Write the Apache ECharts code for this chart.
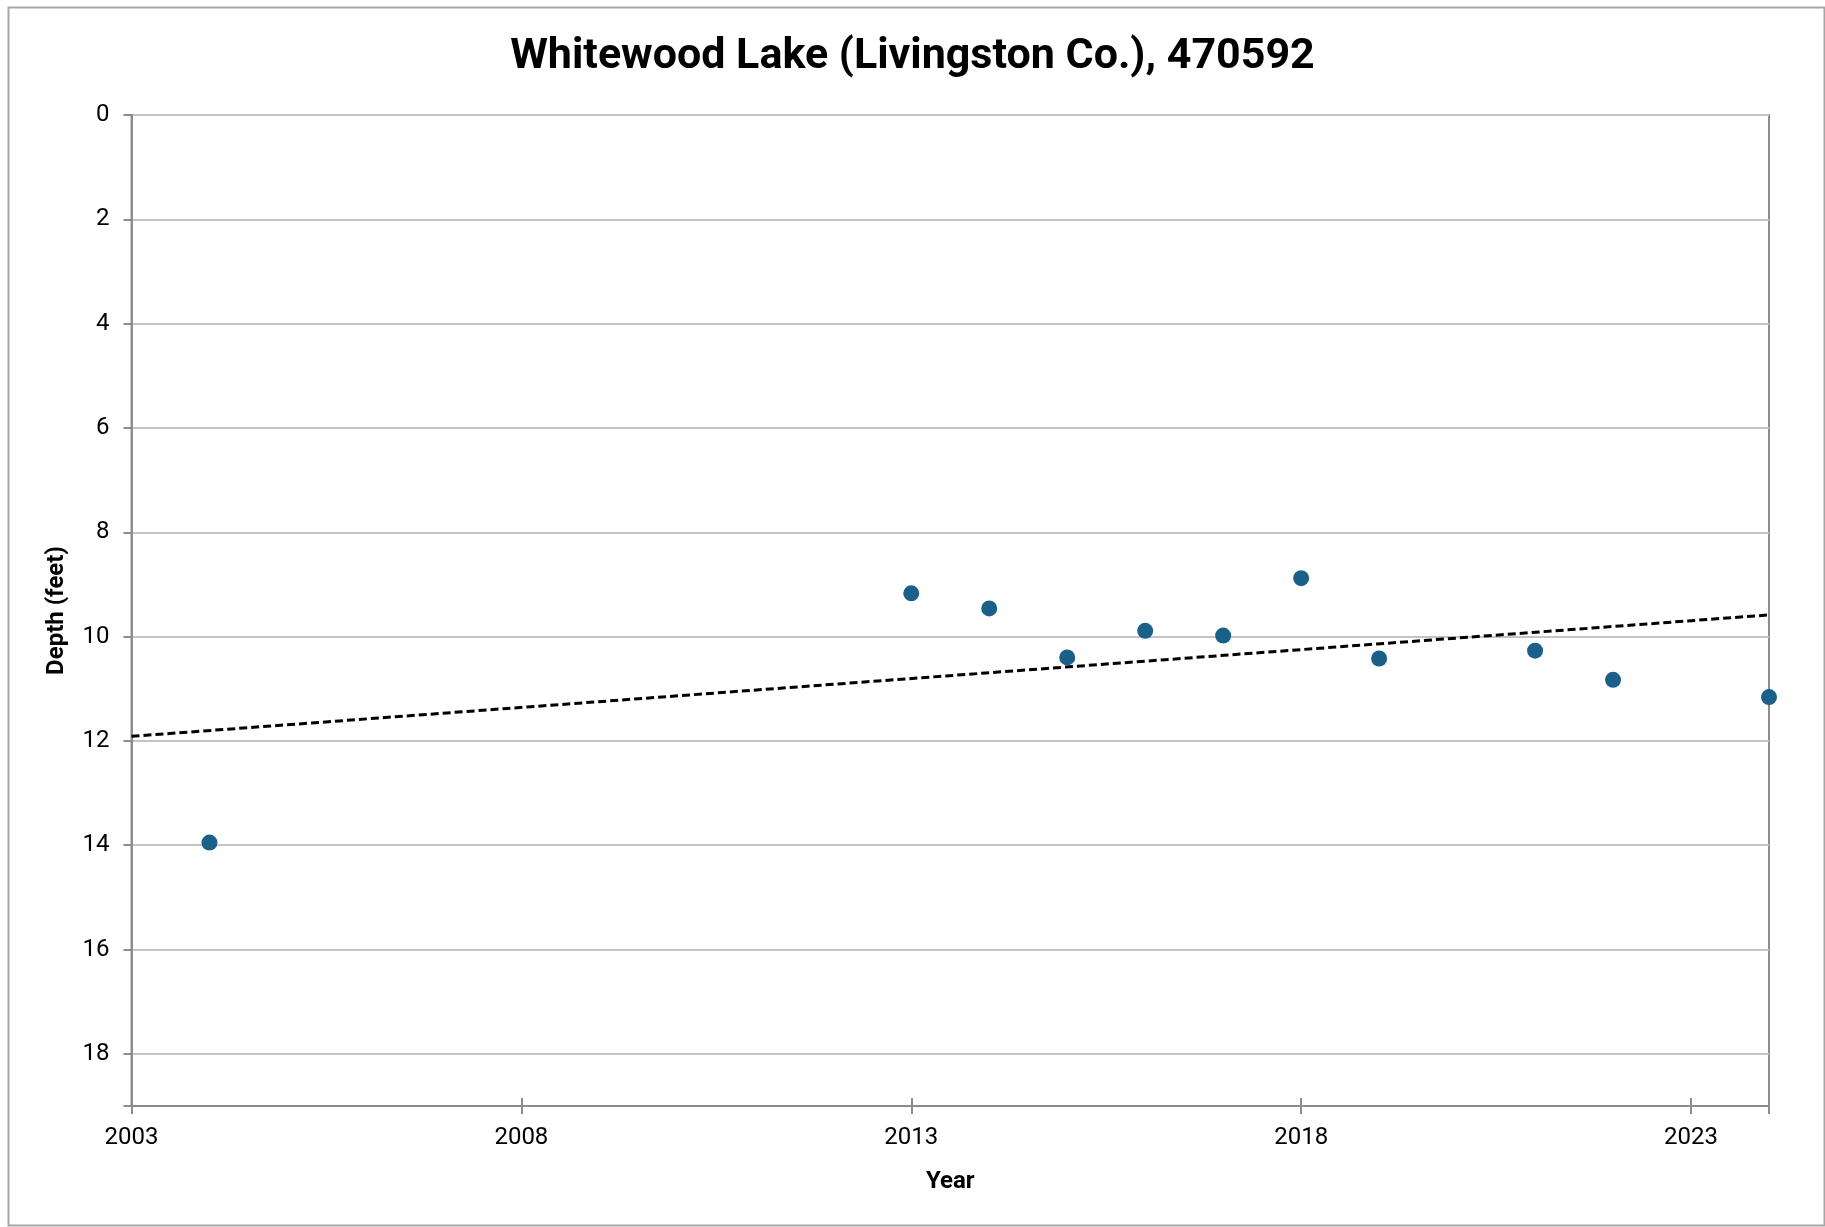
<!DOCTYPE html>
<html>
<head>
<meta charset="utf-8">
<script src="https://cdn.jsdelivr.net/npm/echarts@6/dist/echarts.min.js"></script>
<style>html,body{margin:0;padding:0;background:#fff;}#c{width:1825px;height:1227px;}</style>
</head>
<body>
<div id="c"></div>
<script>
const years = [2004, 2013, 2014, 2015, 2016, 2017, 2018, 2019, 2021, 2022, 2024];
const depths = [13.95, 9.17, 9.46, 10.40, 9.89, 9.98, 8.88, 10.42, 10.27, 10.83, 11.16];
const xTickLabels = ['2003', '2008', '2013', '2018', '2023'];
const yTickLabels = ['0', '2', '4', '6', '8', '10', '12', '14', '16', '18'];
const yearStart = 2003, yearEnd = 2024;
const depthMax = 19;

// least-squares trendline from the data
const n = years.length;
const mx = years.reduce((a, b) => a + b, 0) / n;
const my = depths.reduce((a, b) => a + b, 0) / n;
let sxy = 0, sxx = 0;
for (let i = 0; i < n; i++) { sxy += (years[i] - mx) * (depths[i] - my); sxx += (years[i] - mx) ** 2; }
const slope = sxy / sxx, icpt = my - slope * mx;
const trend = [[0, icpt + slope * yearStart], [yearEnd - yearStart, icpt + slope * yearEnd]];

const pts = years.map((y, i) => [y - yearStart, depths[i]]);
const FONT = 'Roboto, "Liberation Sans", sans-serif';
const AX = '#8c8c8c';
const GRID = {left: 131.5, right: 56, top: 115, bottom: 121};
const plotH = 1227 - GRID.top - GRID.bottom;

const chart = echarts.init(document.getElementById('c'), null, {renderer: 'canvas'});
chart.setOption({
  backgroundColor: '#fff',
  animation: false,
  title: {
    text: 'Whitewood Lake (Livingston Co.), 470592',
    left: 'center', top: 31,
    textStyle: {fontFamily: FONT, fontWeight: 'bold', fontSize: 43, color: '#000'}
  },
  graphic: [{
    type: 'rect', left: 6, top: 5,
    shape: {width: 1816, height: 1218},
    style: {fill: 'none', stroke: '#a6a6a6', lineWidth: 2}, silent: true, z: -1
  }],
  grid: Object.assign({show: true, borderColor: AX, borderWidth: 2, backgroundColor: 'transparent'}, GRID),
  xAxis: [{
    type: 'value', min: 0, max: yearEnd - yearStart, interval: 5, position: 'bottom',
    name: 'Year', nameLocation: 'middle', nameGap: 64,
    nameTextStyle: {fontFamily: FONT, fontWeight: 'bold', fontSize: 24, color: '#000'},
    axisLine: {show: true, onZero: false, lineStyle: {color: AX, width: 2}},
    axisTick: {show: true, inside: false, length: 8, lineStyle: {color: AX, width: 2}},
    axisLabel: {
      margin: 20, fontFamily: FONT, fontSize: 24, color: '#000',
      formatter: v => (v % 5 === 0 ? xTickLabels[v / 5] || '' : '')
    },
    splitLine: {show: false}
  }, {
    // upward half of the crossing ticks on the bottom axis
    type: 'value', min: 0, max: yearEnd - yearStart, interval: 5, position: 'top', offset: -plotH,
    axisLine: {show: false, onZero: false},
    axisTick: {show: true, inside: false, length: 8, lineStyle: {color: AX, width: 2}},
    axisLabel: {show: false},
    splitLine: {show: false}
  }],
  yAxis: {
    type: 'value', min: 0, max: depthMax, interval: 2, inverse: true,
    name: 'Depth (feet)', nameLocation: 'middle', nameGap: 63, nameRotate: 90,
    nameTextStyle: {fontFamily: FONT, fontWeight: 'bold', fontSize: 24, color: '#000'},
    axisLine: {show: true, onZero: false, lineStyle: {color: AX, width: 2}},
    axisTick: {show: true, length: 8, lineStyle: {color: AX, width: 2}},
    axisLabel: {
      margin: 22, fontFamily: FONT, fontSize: 24, color: '#000',
      formatter: v => (v % 2 === 0 ? yTickLabels[v / 2] || '' : '')
    },
    splitLine: {show: true, lineStyle: {color: '#c4c4c4', width: 2}}
  },
  series: [
    {
      type: 'line', data: trend, showSymbol: false, symbol: 'none', xAxisIndex: 0,
      lineStyle: {color: '#000', width: 3, type: [8, 4]}, z: 2, silent: true
    },
    {
      type: 'scatter', data: pts, symbolSize: 16, xAxisIndex: 0,
      itemStyle: {color: '#1b6089', opacity: 1}, z: 3
    }
  ]
});
</script>
</body>
</html>
